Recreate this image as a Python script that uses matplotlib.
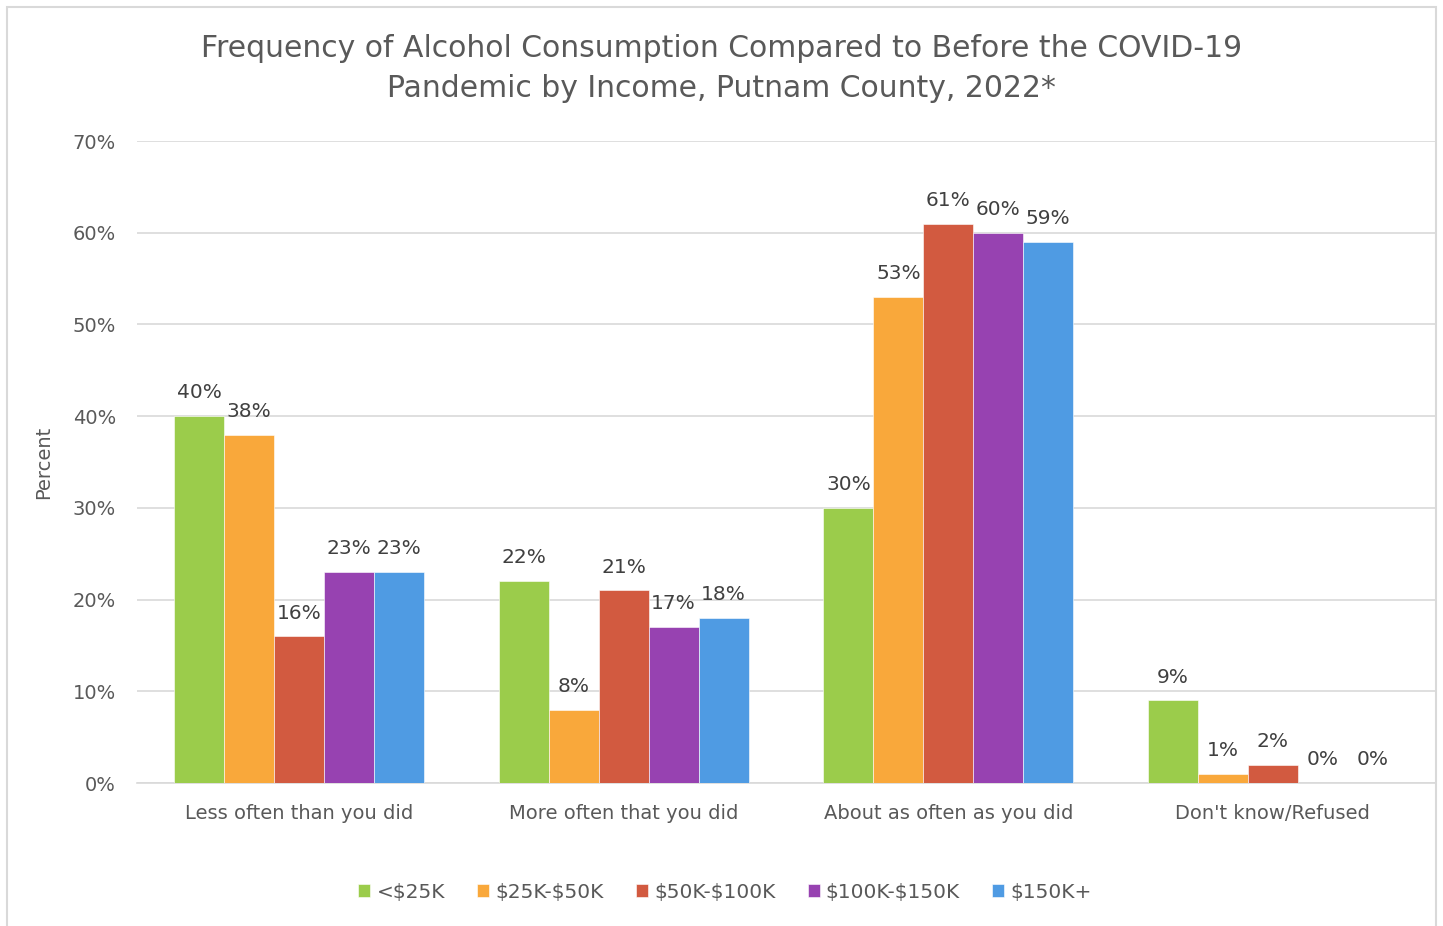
import numpy as np
import matplotlib
matplotlib.use("Agg")
import matplotlib.pyplot as plt
from matplotlib.patches import Rectangle

categories = ["Less often than you did", "More often that you did",
              "About as often as you did", "Don't know/Refused"]
series_names = ["<$25K", "$25K-$50K", "$50K-$100K", "$100K-$150K", "$150K+"]
lt25 = [40, 22, 30, 9]
k25_50 = [38, 8, 53, 1]
k50_100 = [16, 21, 61, 2]
k100_150 = [23, 17, 60, 0]
k150p = [23, 18, 59, 0]
colors = ["#9BCC4B", "#F9A83B", "#D25A40", "#9742B1", "#4F9BE3"]
yticks = [0, 10, 20, 30, 40, 50, 60, 70]

plt.rcParams['font.family'] = ['DejaVu Sans']
plt.rcParams['text.parse_math'] = False
fig = plt.figure(figsize=(14.43, 9.26), dpi=100)
fig.patches.append(Rectangle((0.005, -0.01), 0.99, 1.002, transform=fig.transFigure,
                             fill=False, edgecolor="#D9D9D9", linewidth=1.5))
ax = fig.add_axes([0.0949, 0.1544, 0.8996, 0.6933])

data = [lt25, k25_50, k50_100, k100_150, k150p]
x = np.arange(len(categories))
w = 50 / 325
for i, vals in enumerate(data):
    pos = x + (i - 2) * w
    bars = ax.bar(pos, vals, width=w, color=colors[i], label=series_names[i], zorder=3,
                  edgecolor="white", linewidth=0.4)
    for b, v in zip(bars, vals):
        ax.text(b.get_x() + b.get_width() / 2, v + 1.5, f"{v}%", ha="center", va="bottom",
                fontsize=14.5, color="#404040", zorder=4)

ax.set_xlim(-0.5, 3.5)
ax.set_ylim(0, 70)
ax.set_yticks(yticks)
ax.set_yticklabels([f"{t}%" for t in yticks], fontsize=14, color="#595959")
ax.set_xticks(x)
ax.set_xticklabels(categories, fontsize=14, color="#595959")
ax.tick_params(axis="x", length=0, pad=15)
ax.tick_params(axis="y", length=0, pad=15)
ax.grid(axis="y", color="#D9D9D9", linewidth=1.2, zorder=0)
for s in ["top", "right", "left"]:
    ax.spines[s].set_visible(False)
ax.spines["bottom"].set_color("#D9D9D9")
ax.spines["bottom"].set_linewidth(1.2)
ax.set_ylabel("Percent", fontsize=14, color="#595959", labelpad=14)

fig.text(0.5, 0.926, "Frequency of Alcohol Consumption Compared to Before the COVID-19\nPandemic by Income, Putnam County, 2022*",
         ha="center", va="center", fontsize=21.5, color="#595959", linespacing=1.45)

ax.legend(loc="center", bbox_to_anchor=(0.453, -0.17), ncol=5, frameon=False,
          fontsize=14.5, labelcolor="#595959", handlelength=0.6, handleheight=0.6,
          handletextpad=0.3, columnspacing=1.6)

fig.savefig("out.png", dpi=100)
